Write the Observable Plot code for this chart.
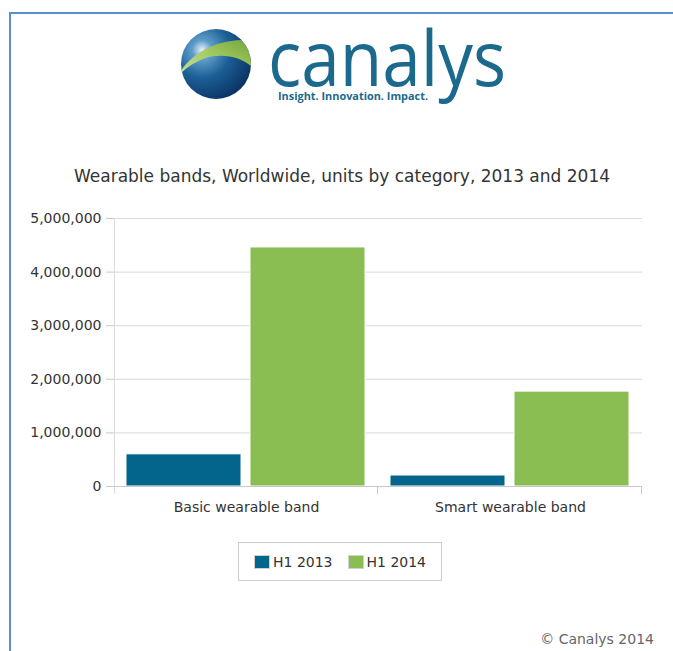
<!DOCTYPE html>
<html>
<head>
<meta charset="utf-8">
<script src="https://cdn.jsdelivr.net/npm/d3@7"></script>
<script src="https://cdn.jsdelivr.net/npm/@observablehq/plot@0.6"></script>
<style>
  html, body { margin: 0; padding: 0; background: #fff; }
  body { width: 673px; height: 651px; position: relative; overflow: hidden; font-family: "DejaVu Sans", Verdana, sans-serif; }
  #frame { position: absolute; left: 9px; top: 12px; width: 680px; height: 660px; border-top: 2px solid #5b8dcf; border-left: 2px solid #5b8dcf; }
  #logo { position: absolute; left: 0; top: 0; }
  #title { position: absolute; left: 0; width: 684px; top: 166px; text-align: center; font-size: 17px; color: #333; }
  #chart { position: absolute; left: 0; top: 200px; }
  #legend { position: absolute; left: 238px; top: 542px; width: 204px; height: 39px; border: 1px solid #cccccc; box-sizing: border-box; display: flex; align-items: center; padding-left: 15px; font-size: 14px; color: #333; }
  .item { display: flex; align-items: center; margin-right: 15px; }
  .sw { width: 14px; height: 12px; border: 1px solid #d0d0d0; margin-right: 3px; }
  #copy { position: absolute; right: 19px; top: 631px; font-size: 14px; color: #666; }
</style>
</head>
<body>
<div id="frame"></div>
<svg id="logo" width="673" height="120">
  <defs>
    <radialGradient id="globe" cx="0.3" cy="0.3" r="0.8">
      <stop offset="0" stop-color="#e8f2fa"/>
      <stop offset="0.18" stop-color="#5d9bc9"/>
      <stop offset="0.5" stop-color="#1c5f96"/>
      <stop offset="1" stop-color="#0a2f5e"/>
    </radialGradient>
    <linearGradient id="swoosh" x1="0" y1="1" x2="1" y2="0">
      <stop offset="0" stop-color="#cfe6a0"/>
      <stop offset="0.6" stop-color="#9cc651"/>
      <stop offset="1" stop-color="#7aa83a"/>
    </linearGradient>
    <clipPath id="gc"><circle cx="216" cy="64" r="35"/></clipPath>
  </defs>
  <circle cx="216" cy="64" r="35" fill="url(#globe)"/>
  <path clip-path="url(#gc)" d="M180,72 C195,50 220,38 255,40 L255,70 C245,58 225,52 205,58 C195,62 186,68 180,74 Z" fill="url(#swoosh)" opacity="0.95"/>
  <text x="268" y="86" font-family="'Open Sans', sans-serif" font-size="76" fill="#1b6a8d" textLength="238" lengthAdjust="spacingAndGlyphs">canalys</text>
  <text x="278" y="100" font-family="'Open Sans', sans-serif" font-weight="bold" font-size="10.5" fill="#1b6a8d" textLength="150" lengthAdjust="spacingAndGlyphs">Insight. Innovation. Impact.</text>
</svg>
<div id="title">Wearable bands, Worldwide, units by category, 2013 and 2014</div>
<div id="chart"></div>
<div id="legend"></div>
<div id="copy">© Canalys 2014</div>
<script>
const categories = ["Basic wearable band", "Smart wearable band"];
const series = ["H1 2013", "H1 2014"];
const h1_2013 = [600000, 205000];
const h1_2014 = [4460000, 1770000];
const colors = ["#03658c", "#8bbe52"];
const yTicks = [0, 1000000, 2000000, 3000000, 4000000, 5000000];

const data = categories.flatMap((c, i) => [
  {category: c, series: series[0], value: h1_2013[i]},
  {category: c, series: series[1], value: h1_2014[i]}
]);

const fmt = d3.format(",");

const chart = Plot.plot({
  width: 673,
  height: 326,
  marginLeft: 113,
  marginRight: 31,
  marginTop: 18,
  marginBottom: 40,
  style: {fontFamily: "'DejaVu Sans', Verdana, sans-serif", fontSize: "14px", color: "#333", background: "transparent"},
  fx: {domain: categories, padding: 0, axis: null, label: null},
  x: {domain: series, paddingInner: 0.072, paddingOuter: 0.096, axis: null},
  y: {domain: [0, 5000000], axis: null},
  color: {domain: series, range: colors},
  marks: [
    Plot.gridY(yTicks, {stroke: "#d8d8d8", strokeOpacity: 1}),
    Plot.axisY(yTicks, {tickFormat: fmt, tickSize: 8, tickPadding: 5, stroke: "#c8c8c8", fill: "#333", label: null}),
    Plot.barY(data, {fx: "category", x: "series", y: "value", fill: "series", stroke: "#ffffff", strokeWidth: 1}),
    Plot.axisFx({anchor: "bottom", tickSize: 0, tickPadding: 16, fill: "#333", label: null})
  ]
});
document.getElementById("chart").appendChild(chart);

// axis lines and category-boundary ticks from the chart's own scales
const fx = chart.scale("fx");
const y = chart.scale("y");
const svg = d3.select(chart);
const y0 = y.apply(0), yTop = y.apply(5000000);
const edges = categories.map(c => fx.apply(c)).concat([fx.apply(categories[categories.length - 1]) + fx.bandwidth]);
const g = svg.append("g").attr("stroke", "#c8c8c8").attr("stroke-width", 1);
g.append("line").attr("x1", edges[0] + 0.5).attr("x2", edges[0] + 0.5).attr("y1", yTop).attr("y2", y0 + 8).attr("stroke", "#dcdcdc");
g.append("line").attr("x1", edges[0]).attr("x2", edges[edges.length - 1]).attr("y1", y0 + 0.5).attr("y2", y0 + 0.5);
edges.slice(1).forEach(e => g.append("line").attr("x1", e - 0.5).attr("x2", e - 0.5).attr("y1", y0).attr("y2", y0 + 8));

// legend
const legend = d3.select("#legend");
series.forEach((s, i) => {
  const it = legend.append("div").attr("class", "item");
  it.append("div").attr("class", "sw").style("background", colors[i]);
  it.append("span").text(s);
});
</script>
</body>
</html>
